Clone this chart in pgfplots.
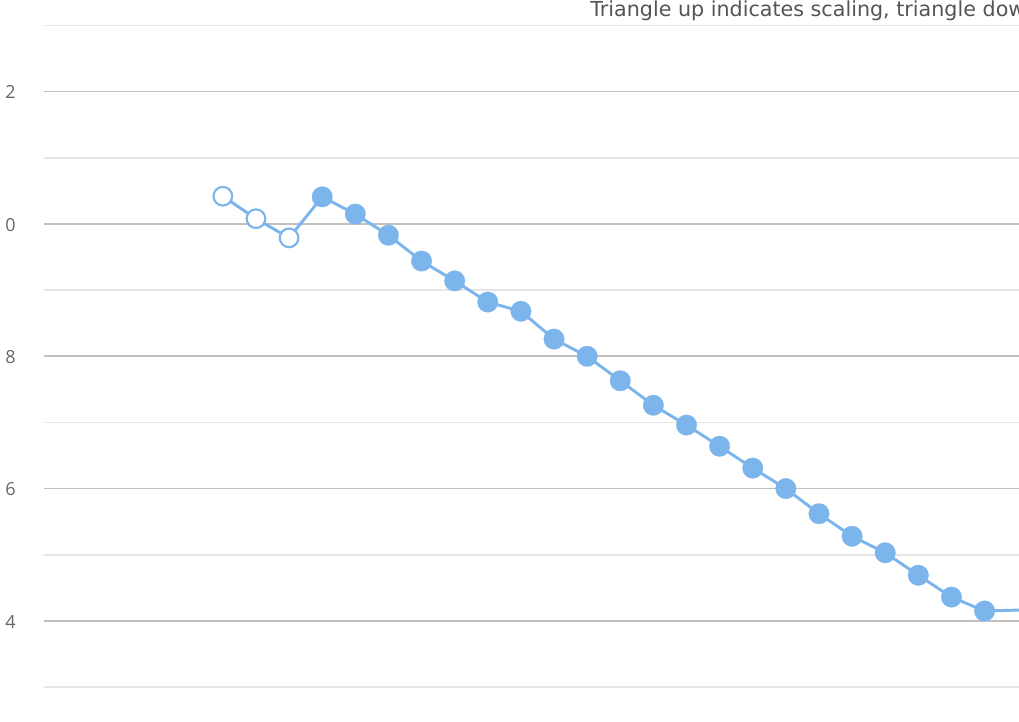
\documentclass[border=0pt]{standalone}
\usepackage{pgfplots}
\pgfplotsset{compat=1.18}
\usepackage{fontspec}
\setmainfont{Open Sans}
\newfontfamily\titlefont{DejaVu Sans}
\definecolor{hc}{HTML}{7CB5EC}
\definecolor{majg}{HTML}{C0C0C0}
\definecolor{ming}{HTML}{E6E6E6}
\definecolor{lbl}{HTML}{666666}
\definecolor{ttl}{HTML}{555555}
\pgfplotstableread{
x y
1 10.42
2 10.08
3 9.79
4 10.41
5 10.15
6 9.83
7 9.44
8 9.14
9 8.82
10 8.68
11 8.26
12 8.00
13 7.63
14 7.26
15 6.96
16 6.64
17 6.31
18 6.00
19 5.62
20 5.28
21 5.03
22 4.69
23 4.36
24 4.15
25.5 4.17
}\datatab
\pgfplotstableread{
x y
1 10.42
2 10.08
3 9.79
}\hollowtab
\pgfplotstableread{
x y
4 10.41
5 10.15
6 9.83
7 9.44
8 9.14
9 8.82
10 8.68
11 8.26
12 8.00
13 7.63
14 7.26
15 6.96
16 6.64
17 6.31
18 6.00
19 5.62
20 5.28
21 5.03
22 4.69
23 4.36
24 4.15
}\filledtab
\begin{document}
\begin{tikzpicture}[x=0.75pt,y=0.75pt]
\begin{axis}[
  at={(0,0)}, anchor=south west,
  scale only axis, width=731.25pt, height=540.75pt,
  xmin=-4.40, xmax=25.04, ymin=2.487, ymax=13.386,
  axis line style={draw=none},
  major tick length=0pt, minor tick length=0pt,
  xtick=\empty,
  ytick={4,6,8,10,12}, yticklabels={4,6,8,0,2},
  minor ytick={3,5,7,9,11,13},
  ymajorgrids, yminorgrids,
  major grid style={draw=majg, line width=1.2pt},
  minor grid style={draw=ming, line width=1.2pt},
  yticklabel style={anchor=east, inner sep=0pt, xshift=-21pt, yshift=-0.5pt, text=lbl, font=\fontsize{13.5}{16}\selectfont},
  /pgf/number format/assume math mode=true,
]
\addplot[color=hc, line width=2.2pt, no markers] table {\datatab};
\addplot[color=hc, only marks, mark=*, mark size=7pt, mark options={draw=hc, fill=white, line width=1.6pt}] table {\hollowtab};
\addplot[color=hc, only marks, mark=*, mark size=7.7pt, mark options={draw=hc, fill=hc, line width=0.2pt}] table {\filledtab};
\end{axis}
\node[anchor=base west, inner sep=0pt, text=ttl, font=\titlefont\fontsize{15.5}{18}\selectfont] at (590-44,704.3) {Triangle up indicates scaling, triangle down indicates};
\pgfresetboundingbox
\useasboundingbox (-44,0) rectangle (975,721);
\end{tikzpicture}
\end{document}
